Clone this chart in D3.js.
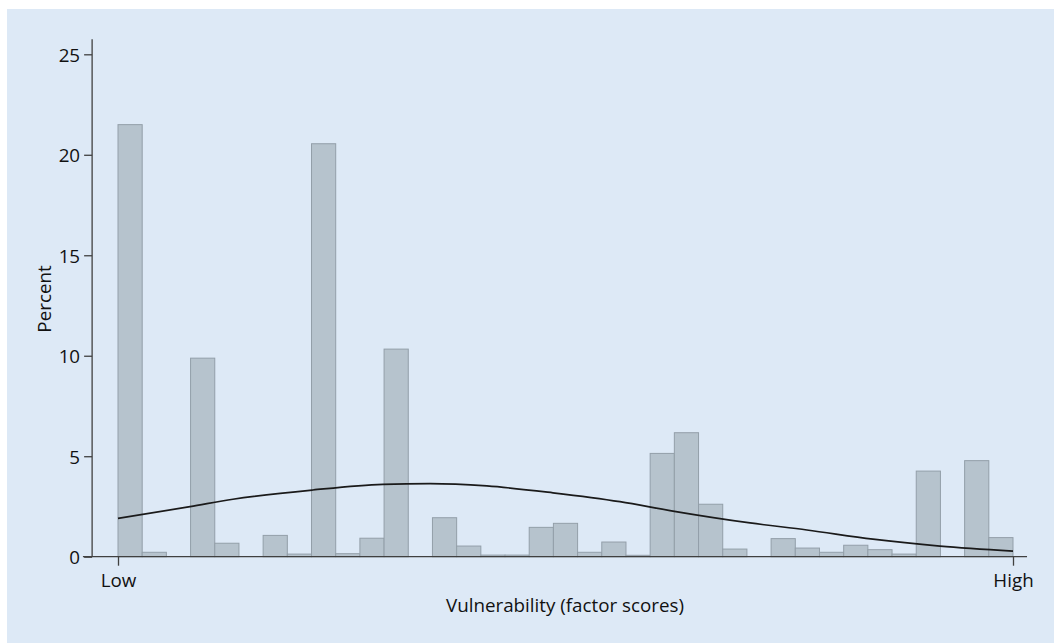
<!DOCTYPE html>
<html>
<head>
<meta charset="utf-8">
<script src="https://cdn.jsdelivr.net/npm/d3@7"></script>
<style>
  html, body { margin: 0; padding: 0; background: #ffffff; }
  svg { display: block; }
  text { font-family: "Open Sans", "Noto Sans", sans-serif; fill: #111111; }
</style>
</head>
<body>
<svg id="chart" width="1054" height="643"></svg>
<script>
// Histogram of vulnerability factor scores: 37 equal-width bins from Low to High
const binIndex = d3.range(37);
const percent = [
  21.5, 0.22, 0, 9.88, 0.67, 0, 1.06, 0.13, 20.55, 0.15,
  0.92, 10.33, 0, 1.94, 0.53, 0.08, 0.08, 1.46, 1.66, 0.22,
  0.73, 0.07, 5.14, 6.17, 2.61, 0.38, 0, 0.9, 0.43, 0.22,
  0.57, 0.35, 0.13, 4.26, 0, 4.78, 0.95
];

// Fitted normal density overlay (position in bin units, percent)
const curveX = [0, 2.98, 4.75, 8.06, 10.95, 12.9, 15.25, 17.98, 20.75, 22.94, 26.13, 28.48, 31.21, 33.98, 37];
const curveY = [1.91, 2.49, 2.86, 3.32, 3.6, 3.64, 3.52, 3.18, 2.74, 2.27, 1.68, 1.33, 0.87, 0.53, 0.28];

const yTicks = [0, 5, 10, 15, 20, 25];
const xTickValues = [0, 37];
const xTickLabels = ["Low", "High"];

const fontSize = "18.8px";
const textColor = "#111111";

const svg = d3.select("#chart");

svg.append("rect")
  .attr("x", 7).attr("y", 9)
  .attr("width", 1054 - 7).attr("height", 643 - 9)
  .attr("fill", "#dde9f6");

const x = d3.scaleLinear().domain([0, 37]).range([118, 1013]);
const y = d3.scaleLinear().domain([0, 25]).range([556.7, 54.3]);

const axisColor = "#404040";

// Bars
svg.append("g")
  .selectAll("rect")
  .data(binIndex.filter(i => percent[i] > 0))
  .join("rect")
  .attr("x", i => x(i))
  .attr("y", i => y(percent[i]))
  .attr("width", i => x(i + 1) - x(i))
  .attr("height", i => y(0) - y(percent[i]))
  .attr("fill", "#b6c3cd")
  .attr("stroke", "#939fa9")
  .attr("stroke-width", 1);

// Density curve
const line = d3.line()
  .x(d => x(d[0]))
  .y(d => y(d[1]))
  .curve(d3.curveMonotoneX);

svg.append("path")
  .datum(curveX.map((v, i) => [v, curveY[i]]))
  .attr("d", line)
  .attr("fill", "none")
  .attr("stroke", "#1a1a1a")
  .attr("stroke-width", 1.7);

// Y axis
const yAxisG = svg.append("g")
  .attr("transform", `translate(${x(-1.07)},0)`)
  .call(d3.axisLeft(y).tickValues(yTicks).tickSize(8).tickSizeOuter(0).tickPadding(4));
yAxisG.select(".domain").remove();
yAxisG.append("line")
  .attr("x1", 0).attr("x2", 0)
  .attr("y1", y(0)).attr("y2", y(25.75))
  .attr("stroke", axisColor).attr("stroke-width", 1.3);
yAxisG.selectAll(".tick line").attr("stroke", axisColor).attr("stroke-width", 1.3);
yAxisG.selectAll(".tick text")
  .style("font-size", fontSize)
  .style("font-family", "'Open Sans', sans-serif")
  .attr("fill", textColor)
  .attr("dy", "0.36em");

// X axis
const xAxisG = svg.append("g")
  .attr("transform", `translate(0,${y(0)})`)
  .call(d3.axisBottom(x).tickValues(xTickValues)
    .tickFormat((d, i) => xTickLabels[i])
    .tickSize(9).tickSizeOuter(0).tickPadding(8));
xAxisG.select(".domain").remove();
xAxisG.append("line")
  .attr("x1", x(-1.45)).attr("x2", x(37.58))
  .attr("y1", 0).attr("y2", 0)
  .attr("stroke", axisColor).attr("stroke-width", 1.3);
xAxisG.selectAll(".tick line").attr("stroke", axisColor).attr("stroke-width", 1.3);
xAxisG.selectAll(".tick text")
  .style("font-size", fontSize)
  .style("font-family", "'Open Sans', sans-serif")
  .attr("fill", textColor);

// Axis titles
svg.append("text")
  .attr("transform", "translate(51,299) rotate(-90)")
  .attr("text-anchor", "middle")
  .style("font-size", fontSize)
  .text("Percent");

svg.append("text")
  .attr("x", 565).attr("y", 612)
  .attr("text-anchor", "middle")
  .style("font-size", fontSize)
  .text("Vulnerability (factor scores)");
</script>
</body>
</html>
